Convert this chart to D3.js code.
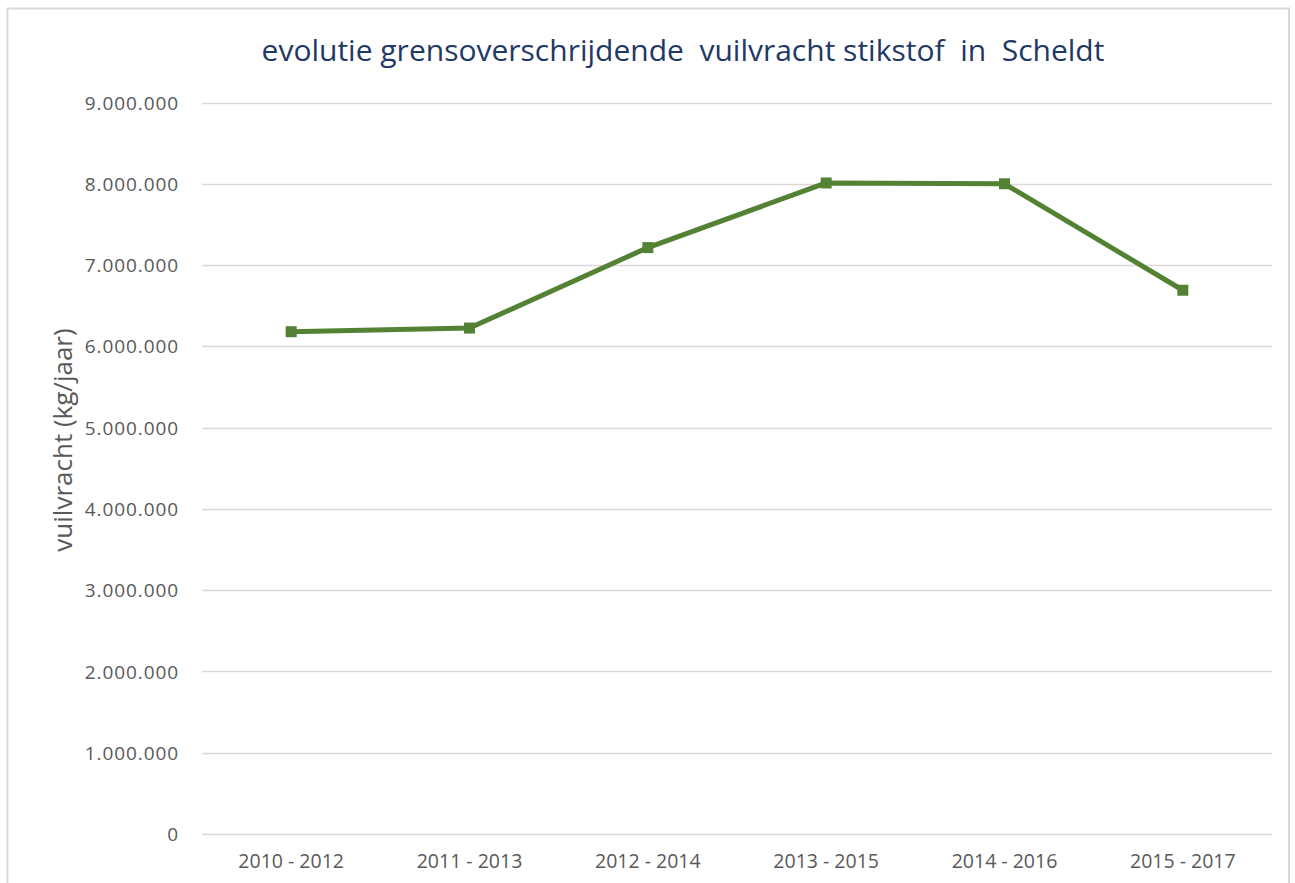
<!DOCTYPE html>
<html><head><meta charset="utf-8">
<script src="https://cdn.jsdelivr.net/npm/d3@7"></script>
<style>
body{margin:0;background:#fff;}
svg{display:block;}
text{font-family:"Open Sans","Noto Sans",sans-serif;}
</style></head>
<body><svg id="c" width="1295" height="883"></svg>
<script>
const categories = ["2010 - 2012","2011 - 2013","2012 - 2014","2013 - 2015","2014 - 2016","2015 - 2017"];
const values = [6180000, 6225000, 7215000, 8010000, 8000000, 6690000];
const yTicks = [0,1000000,2000000,3000000,4000000,5000000,6000000,7000000,8000000,9000000];
const title = "evolutie grensoverschrijdende  vuilvracht stikstof  in  Scheldt";
const yLabel = "vuilvracht (kg/jaar)";

const svg = d3.select("#c");
svg.append("rect").attr("x",7.5).attr("y",8.5).attr("width",1281.5).attr("height",890)
  .attr("fill","#fff").attr("stroke","#d9d9d9").attr("stroke-width",2);

const m = {l:202, r:1272, t:102.5, b:834};
const x = d3.scaleBand().domain(categories).range([m.l,m.r]);
const y = d3.scaleLinear().domain([0,9000000]).range([m.b,m.t]);
const fmt = v => v===0 ? "0" : d3.format(",")(v).replace(/,/g,".");

const g = svg.append("g");
g.selectAll("line.grid").data(yTicks).join("line")
  .attr("x1",m.l).attr("x2",m.r)
  .attr("y1",d=>Math.round(y(d))+0.5).attr("y2",d=>Math.round(y(d))+0.5)
  .attr("stroke","#d9d9d9").attr("stroke-width",1.5);

const yAxis = d3.axisLeft(y).tickValues(yTicks).tickFormat(fmt).tickSize(0).tickPadding(0);
const ya = svg.append("g").attr("transform",`translate(${m.l-23},0)`).call(yAxis);
ya.select(".domain").remove();
ya.selectAll("text").attr("fill","#595959").style("font-size","19px").style("letter-spacing","0.9px").attr("dy","0.35em");

const xAxis = d3.axisBottom(x).tickSize(0).tickPadding(0);
const xa = svg.append("g").attr("transform",`translate(0,${m.b+20})`).call(xAxis);
xa.select(".domain").remove();
xa.selectAll("text").attr("fill","#595959").style("font-size","19.5px").attr("dy","0.71em");

const line = d3.line().x((d,i)=>x(categories[i])+x.bandwidth()/2).y(d=>y(d));
svg.append("path").datum(values).attr("d",line).attr("fill","none")
  .attr("stroke","#548235").attr("stroke-width",5).attr("stroke-linejoin","round");
svg.selectAll("rect.mk").data(values).join("rect").attr("class","mk")
  .attr("x",(d,i)=>x(categories[i])+x.bandwidth()/2-5.5).attr("y",d=>y(d)-5.5)
  .attr("width",11).attr("height",11).attr("fill","#548235");

svg.append("text").attr("x",683).attr("y",61).attr("text-anchor","middle")
  .attr("fill","#1f3864").style("font-size","30px").style("white-space","pre")
  .text(title);

svg.append("text").attr("transform","translate(72,440) rotate(-90)").attr("text-anchor","middle")
  .attr("fill","#595959").style("font-size","26px").text(yLabel);
</script></body></html>
